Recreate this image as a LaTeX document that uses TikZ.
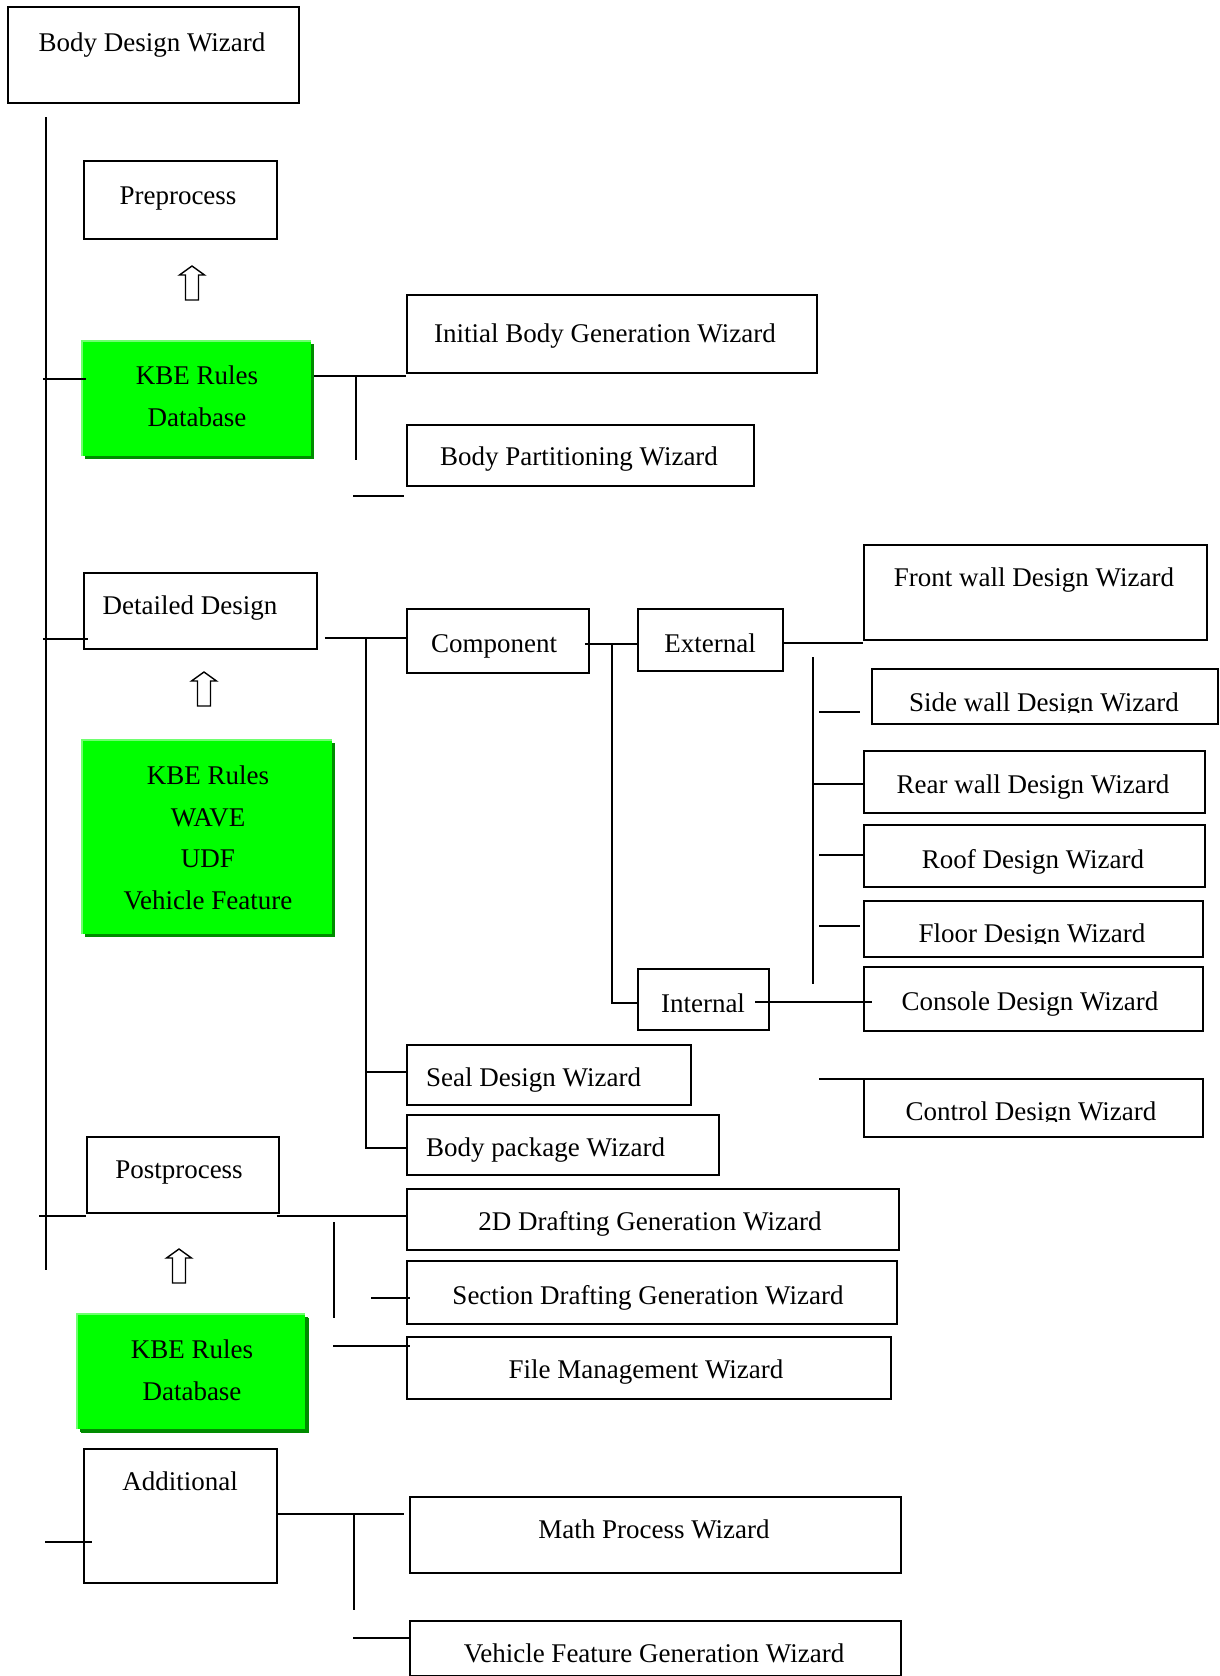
\documentclass[tikz,border=0pt]{standalone}
\usepackage{fontspec}
\setmainfont{Liberation Serif}
\usetikzlibrary{shadows}
\definecolor{kbegreen}{RGB}{0,255,0}
\definecolor{kbedark}{RGB}{0,140,0}
\definecolor{kbelight}{RGB}{110,255,110}
\begin{document}
\begin{tikzpicture}[x=1pt,y=-1pt,
  conn/.style={line width=1.8pt},
  wbox/.style={draw, line width=1.8pt, inner sep=0pt, anchor=north west},
  gbox/.style={fill=kbegreen, inner sep=0pt, anchor=north west,
    general shadow={fill=kbedark, shadow xshift=3pt, shadow yshift=-3pt}},
  gedge/.style={kbelight, line width=2pt},
  txt/.style={font=\fontsize{27}{41.5}\selectfont, inner sep=0pt, anchor=base, align=center},
  txtl/.style={txt, anchor=base west},
  hollowup/.pic={\draw[line width=1.4pt, fill=white] (0,0) -- (12.5,9) -- (6.5,9) -- (6.5,34) -- (-6.5,34) -- (-6.5,9) -- (-12.5,9) -- cycle;}
]
\fill[white] (0,0) rectangle (1220,1676);
\useasboundingbox (0,0) rectangle (1220,1676);

% ---------- boxes ----------
\node[wbox, minimum width=291pt, minimum height=96pt] (bdw) at (7,6) {};
\node[txt] (bdwt) at (152,51) {Body Design Wizard};

\node[wbox, minimum width=193pt, minimum height=78pt] (pre) at (83,160) {};
\node[txt] (pret) at (178,204) {Preprocess};

\node[gbox, minimum width=229pt, minimum height=115pt] (kbe1) at (82,341) {};
\draw[gedge] (kbe1.south west) -- (kbe1.north west) -- (kbe1.north east);
\node[txt] (kbe1t) at (197,426) {KBE Rules\\Database};

\node[wbox, minimum width=410pt, minimum height=78pt] (ibg) at (406,294) {};
\node[txt] (ibgt) at (605,342) {Initial Body Generation Wizard};

\node[wbox, minimum width=347pt, minimum height=61pt] (bpw) at (406,424) {};
\node[txt] (bpwt) at (579,465) {Body Partitioning Wizard};

\node[wbox, minimum width=233pt, minimum height=76pt] (dd) at (83,572) {};
\node[txt] (ddt) at (190,614) {Detailed Design};

\node[gbox, minimum width=250pt, minimum height=194pt] (kbe2) at (82,740) {};
\draw[gedge] (kbe2.south west) -- (kbe2.north west) -- (kbe2.north east);
\node[txt] (kbe2t) at (208,909) {KBE Rules\\WAVE\\UDF\\Vehicle Feature};

\node[wbox, minimum width=182pt, minimum height=64pt] (comp) at (406,608) {};
\node[txt] (compt) at (494,652) {Component};

\node[wbox, minimum width=145pt, minimum height=62pt] (ext) at (637,608) {};
\node[txt] (extt) at (710,652) {External};

\node[wbox, minimum width=131pt, minimum height=61pt] (int) at (637,968) {};
\node[txt] (intt) at (703,1012) {Internal};

\node[wbox, minimum width=343pt, minimum height=95pt] (front) at (863,544) {};
\node[txt] (frontt) at (1034,586) {Front wall Design Wizard};

\node[wbox, minimum width=346pt, minimum height=55pt] (side) at (871,668) {};
\begin{scope}
\clip (871,680) rectangle (1217,712.5);
\node[txt] (sidet) at (1044,711) {Side wall Design Wizard};
\end{scope}

\node[wbox, minimum width=341pt, minimum height=62pt] (rear) at (863,750) {};
\node[txt] (reart) at (1033,793) {Rear wall Design Wizard};

\node[wbox, minimum width=341pt, minimum height=62pt] (roof) at (863,824) {};
\node[txt] (rooft) at (1033,868) {Roof Design Wizard};

\node[wbox, minimum width=339pt, minimum height=56pt] (floor) at (863,900) {};
\begin{scope}
\clip (863,910) rectangle (1202,943.5);
\node[txt] (floort) at (1032,942) {Floor Design Wizard};
\end{scope}

\node[wbox, minimum width=339pt, minimum height=64pt] (console) at (863,966) {};
\node[txt] (consolet) at (1030,1010) {Console Design Wizard};

\node[wbox, minimum width=339pt, minimum height=58pt] (control) at (863,1078) {};
\begin{scope}
\clip (863,1090) rectangle (1202,1121.5);
\node[txt] (controlt) at (1031,1120) {Control Design Wizard};
\end{scope}

\node[wbox, minimum width=284pt, minimum height=60pt] (seal) at (406,1044) {};
\node[txtl] (sealt) at (426,1086) {Seal Design Wizard};

\node[wbox, minimum width=312pt, minimum height=60pt] (bpk) at (406,1114) {};
\node[txtl] (bpkt) at (426,1156) {Body package Wizard};

\node[wbox, minimum width=192pt, minimum height=76pt] (post) at (86,1136) {};
\node[txt] (postt) at (179,1178) {Postprocess};

\node[gbox, minimum width=228pt, minimum height=115pt, general shadow={fill=kbedark, shadow xshift=4pt, shadow yshift=-4pt}] (kbe3) at (77,1314) {};
\draw[gedge] (kbe3.south west) -- (kbe3.north west) -- (kbe3.north east);
\node[txt] (kbe3t) at (192,1400) {KBE Rules\\Database};

\node[wbox, minimum width=193pt, minimum height=134pt] (addl) at (83,1448) {};
\node[txt] (addlt) at (180,1490) {Additional};

\node[wbox, minimum width=492pt, minimum height=61pt] (d2) at (406,1188) {};
\node[txt] (d2t) at (650,1230) {2D Drafting Generation Wizard};

\node[wbox, minimum width=490pt, minimum height=63pt] (sec) at (406,1260) {};
\node[txt] (sect) at (648,1304) {Section Drafting Generation Wizard};

\node[wbox, minimum width=484pt, minimum height=62pt] (file) at (406,1336) {};
\node[txt] (filet) at (646,1378) {File Management Wizard};

\node[wbox, minimum width=491pt, minimum height=76pt] (math) at (409,1496) {};
\node[txt] (matht) at (654,1538) {Math Process Wizard};

\node[wbox, minimum width=491pt, minimum height=55pt] (vfg) at (409,1620) {};
\node[txt] (vfgt) at (654,1662) {Vehicle Feature Generation Wizard};

% ---------- hollow arrows ----------
\pic at (192,266) {hollowup};
\pic at (204,672) {hollowup};
\pic at (179,1249) {hollowup};

% ---------- connectors ----------
\coordinate (mtop) at (46,117);
\coordinate (mbot) at (46,1270);
\draw[conn] (mtop) -- (mbot);

\coordinate (s1) at (43,379);
\draw[conn] (s1) -- ([xshift=4pt]s1 -| kbe1.west);
\coordinate (s2) at (43,639);
\draw[conn] (s2) -- ([xshift=5pt]s2 -| dd.west);
\coordinate (s3) at (39,1216);
\draw[conn] (s3) -- (s3 -| post.west);
\coordinate (s4) at (45,1542);
\draw[conn] (s4) -- ([xshift=9pt]s4 -| addl.west);

% KBE 1 branch
\coordinate (k1j) at (356,376);
\coordinate (k1e) at (356,460);
\coordinate (k1s) at (353,496);
\draw[conn] ([xshift=3pt]kbe1.east |- k1j) -- (k1j -| ibg.west);
\draw[conn] (k1j) -- (k1e);
\draw[conn] (k1s) -- ([xshift=-2pt]k1s -| bpw.west);

% Detailed design branch
\coordinate (ddj) at (366,638);
\coordinate (ddb) at (366,1148);
\coordinate (ddsl) at (366,1072);
\draw[conn] ([xshift=7pt]dd.east |- ddj) -- (ddj -| comp.west);
\draw[conn] (ddj) -- (ddb) -- (ddb -| bpk.west);
\draw[conn] (ddsl) -- (ddsl -| seal.west);

% Component branch
\coordinate (cj) at (612,644);
\coordinate (ij) at (612,1003);
\draw[conn] ([xshift=-5pt]comp.east |- cj) -- (cj -| ext.west);
\draw[conn] (cj) -- (ij) -- (ij -| int.west);

% External branch
\coordinate (ej) at (863,643);
\draw[conn] (ext.east |- ej) -- (ej);
\coordinate (evt) at (813,657);
\coordinate (evb) at (813,984);
\draw[conn] (evt) -- (evb);
\coordinate (sd) at (819,712);
\draw[conn] (sd) -- ([xshift=-11pt]sd -| side.west);
\coordinate (rr) at (813,784);
\draw[conn] (rr) -- (rr -| rear.west);
\coordinate (rf) at (819,855);
\draw[conn] (rf) -- (rf -| roof.west);
\coordinate (fl) at (819,926);
\draw[conn] (fl) -- ([xshift=-3pt]fl -| floor.west);

% Internal branch
\coordinate (ic) at (755,1002);
\draw[conn] (ic) -- ([xshift=9pt]ic -| console.west);
\coordinate (ct) at (819,1079);
\draw[conn] (ct) -- (ct -| control.west);

% Postprocess branch
\coordinate (pj) at (334,1216);
\draw[conn] ([xshift=-3pt]post.east |- pj) -- (pj -| d2.west);
\coordinate (pvt) at (334,1222);
\coordinate (pvb) at (334,1318);
\draw[conn] (pvt) -- (pvb);
\coordinate (sc) at (371,1298);
\draw[conn] (sc) -- ([xshift=4pt]sc -| sec.west);
\coordinate (fm) at (333,1346);
\draw[conn] (fm) -- ([xshift=4pt]fm -| file.west);

% Additional branch
\coordinate (aj) at (354,1514);
\coordinate (ab) at (354,1610);
\draw[conn] (addl.east |- aj) -- ([xshift=-5pt]aj -| math.west);
\draw[conn] (aj) -- (ab);
\coordinate (vf) at (353,1638);
\draw[conn] (vf) -- (vf -| vfg.west);
\end{tikzpicture}
\end{document}
